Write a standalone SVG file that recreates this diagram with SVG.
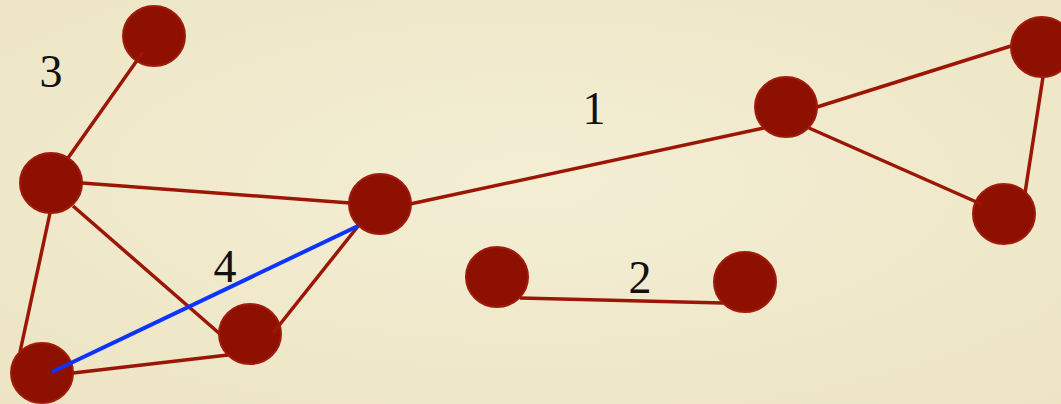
<svg xmlns="http://www.w3.org/2000/svg" width="1061" height="404" viewBox="0 0 1061 404">
<style>
.node{fill:#8e1000;stroke:#a01c0a;stroke-width:2}
.edge{stroke:#9c1606;stroke-width:3.5;fill:none;stroke-linecap:butt}
.blue{stroke:#0d33ff;stroke-width:4;fill:none}
.lbl{font-family:"Liberation Serif","Times New Roman",serif;font-size:46px;fill:#111;text-anchor:middle}
</style>
<defs>
<radialGradient id="bg" cx="50%" cy="45%" r="75%">
<stop offset="0" stop-color="#f4eed5"/>
<stop offset="1" stop-color="#ece4c3"/>
</radialGradient>
</defs>
<rect width="1061" height="404" fill="url(#bg)"/>
<g id="nodes">
<g id="nA"><ellipse class="node" cx="154" cy="36" rx="31" ry="30"/></g>
<g id="nB"><ellipse class="node" cx="51" cy="183" rx="31" ry="30"/></g>
<g id="nC"><ellipse class="node" cx="380" cy="204" rx="31" ry="30"/></g>
<g id="nD"><ellipse class="node" cx="250" cy="334" rx="31" ry="30"/></g>
<g id="nE"><ellipse class="node" cx="42" cy="373" rx="31" ry="30"/></g>
<g id="nF"><ellipse class="node" cx="786" cy="107" rx="31" ry="30"/></g>
<g id="nG"><ellipse class="node" cx="1042" cy="47" rx="31" ry="30"/></g>
<g id="nH"><ellipse class="node" cx="1004" cy="214" rx="31" ry="30"/></g>
<g id="nI"><ellipse class="node" cx="497" cy="277" rx="31" ry="30"/></g>
<g id="nJ"><ellipse class="node" cx="745" cy="282" rx="31" ry="30"/></g>
</g>
<g id="connectors">
<line class="edge" x1="143" y1="52" x2="68" y2="158"/>
<line class="edge" x1="82" y1="183" x2="350" y2="203"/>
<line class="edge" x1="73" y1="206" x2="220" y2="334"/>
<line class="edge" x1="50" y1="213" x2="20" y2="352"/>
<line class="edge" x1="73" y1="373" x2="228" y2="355"/>
<line class="edge" x1="273" y1="333" x2="359" y2="225"/>
<line class="edge" x1="410" y1="204" x2="764" y2="128"/>
<line class="edge" x1="817" y1="107" x2="1011" y2="46"/>
<line class="edge" x1="809" y1="128" x2="981" y2="204"/>
<line class="edge" x1="1043" y1="77" x2="1025" y2="193"/>
<line class="edge" x1="520" y1="298" x2="723" y2="303"/>
<line class="blue" x1="52" y1="372" x2="358" y2="226"/>
</g>
<g id="labels">
<text class="lbl" x="51" y="87">3</text>
<text class="lbl" x="594" y="124">1</text>
<text class="lbl" x="225" y="282">4</text>
<text class="lbl" x="640" y="293">2</text>
</g>
</svg>
